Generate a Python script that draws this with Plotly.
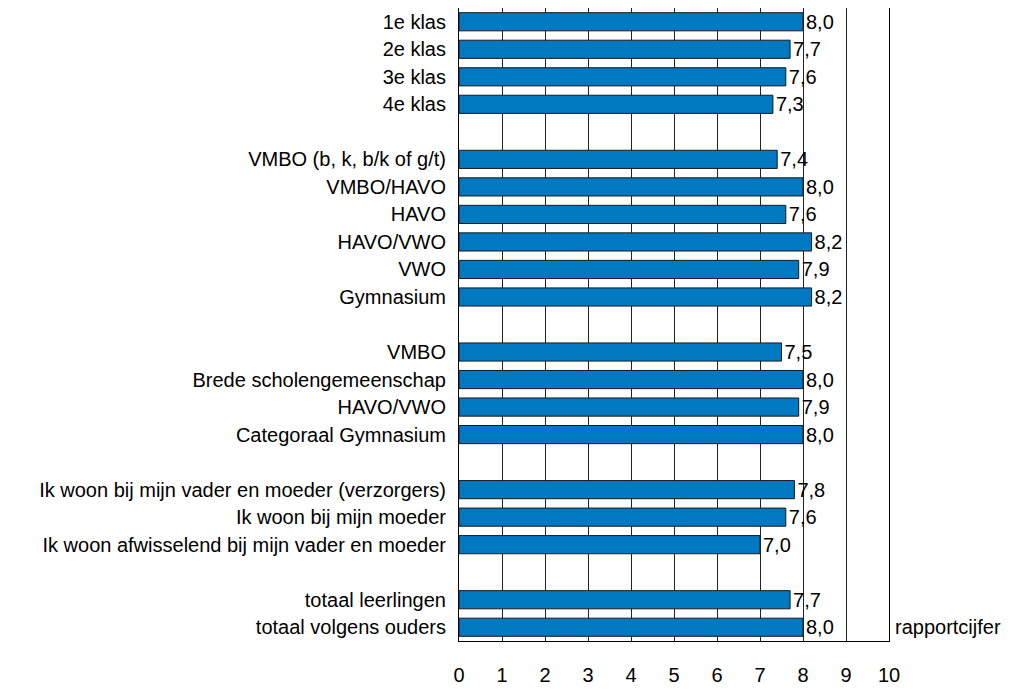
import plotly.graph_objects as go

# groups of categories, separated by an empty row in the chart
groups = [
    ["1e klas", "2e klas", "3e klas", "4e klas"],
    ["VMBO (b, k, b/k of g/t)", "VMBO/HAVO", "HAVO", "HAVO/VWO", "VWO", "Gymnasium"],
    ["VMBO", "Brede scholengemeenschap", "HAVO/VWO", "Categoraal Gymnasium"],
    ["Ik woon bij mijn vader en moeder (verzorgers)", "Ik woon bij mijn moeder",
     "Ik woon afwisselend bij mijn vader en moeder"],
    ["totaal leerlingen", "totaal volgens ouders"],
]
values = [
    [8.0, 7.7, 7.6, 7.3],
    [7.4, 8.0, 7.6, 8.2, 7.9, 8.2],
    [7.5, 8.0, 7.9, 8.0],
    [7.8, 7.6, 7.0],
    [7.7, 8.0],
]
x_ticks = [0, 1, 2, 3, 4, 5, 6, 7, 8, 9, 10]

labels, vals, pos = [], [], []
row = 0
for g, v in zip(groups, values):
    for lab, val in zip(g, v):
        labels.append(lab)
        vals.append(val)
        pos.append(row)
        row += 1
    row += 1

fig = go.Figure(go.Bar(
    x=vals, y=pos, orientation="h",
    marker=dict(color="#0078C2", line=dict(color="#1a1a1a", width=1)),
    width=0.66,
    texttemplate="%{x:.1f}", textposition="outside", cliponaxis=False,
    constraintext="none",
    textfont=dict(size=20, color="black"),
))

# the page body adds 8px, so margins are shifted to keep the plot in place
fig.update_layout(
    width=1024, height=689,
    margin=dict(l=451, r=143, t=0, b=56),
    plot_bgcolor="white", paper_bgcolor="white",
    separators=",.",
    font=dict(family="Liberation Sans, Arial", size=20, color="black"),
    showlegend=False,
)
fig.update_xaxes(
    range=[0, 10], tickvals=x_ticks, showgrid=True, gridcolor="#222", gridwidth=1,
    showline=True, linecolor="black", mirror=True, zeroline=False,
    ticks="", ticklabelstandoff=16,
)
fig.update_yaxes(
    range=[pos[-1] + 0.5, -0.5], tickvals=pos, ticktext=labels,
    showgrid=False, showline=True, linecolor="black", mirror=True,
    zeroline=False, ticks="", ticklabelstandoff=8,
)
fig.add_annotation(
    text="rapportcijfer", xref="paper", yref="y", x=1.0, y=pos[-1],
    xanchor="left", showarrow=False, xshift=4, font=dict(size=20),
)

fig.write_html("out.html")
